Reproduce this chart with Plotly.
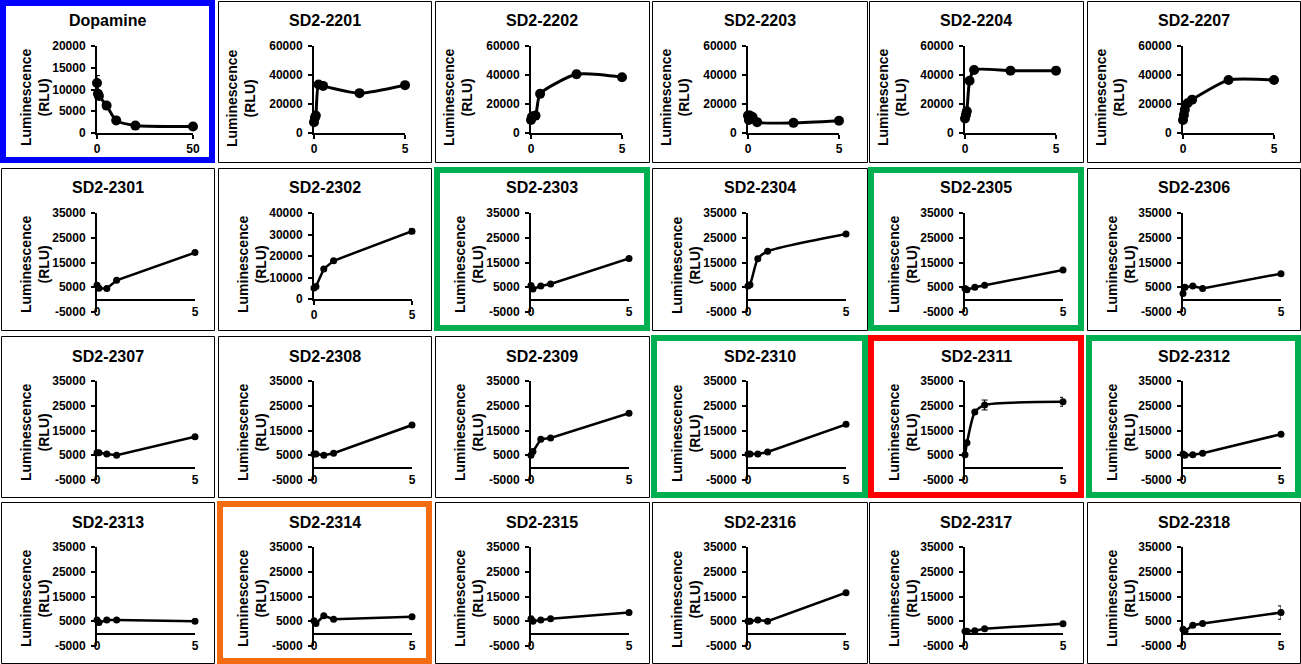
import plotly.graph_objects as go

W, H = 1301, 664

titles = ["Dopamine", "SD2-2201", "SD2-2202", "SD2-2203", "SD2-2204", "SD2-2207",
          "SD2-2301", "SD2-2302", "SD2-2303", "SD2-2304", "SD2-2305", "SD2-2306",
          "SD2-2307", "SD2-2308", "SD2-2309", "SD2-2310", "SD2-2311", "SD2-2312",
          "SD2-2313", "SD2-2314", "SD2-2315", "SD2-2316", "SD2-2317", "SD2-2318"]

# concentrations
x_dopamine = [0, 0.5, 1, 5, 10, 20, 50]
x_sd22 = [0, 0.05, 0.1, 0.25, 0.5, 2.5, 5]
x_sd23 = [0, 0.1, 0.5, 1, 5]

# luminescence (RLU)
y_dopamine = [11500, 9000, 8500, 6300, 2900, 1700, 1500]
y_2201 = [7500, 10500, 12000, 33500, 32500, 27500, 33000]
y_2202 = [9000, 11000, 11500, 12000, 27000, 40500, 38500]
y_2203 = [12000, 9000, 12000, 11000, 7500, 7000, 8500]
y_2204 = [10000, 12500, 15000, 36000, 43500, 43000, 43000]
y_2207 = [9000, 12500, 16000, 20500, 23000, 36500, 36500]
y_2301 = [5800, 4600, 4500, 7800, 19000]
y_2302 = [5100, 5800, 14000, 17800, 31500]
y_2303 = [5700, 4300, 5500, 6300, 16600]
y_2304 = [5500, 6000, 16500, 19500, 26500]
y_2305 = [4500, 4000, 5000, 5800, 12000]
y_2306 = [2500, 5000, 5500, 4500, 10500]
y_2307 = [6000, 6000, 5500, 5000, 12500]
y_2308 = [5500, 5500, 5000, 5800, 17200]
y_2309 = [5000, 6500, 11500, 12000, 22000]
y_2310 = [5500, 5500, 5500, 6300, 17500]
y_2311 = [5200, 10000, 22500, 25300, 26600]
y_2312 = [5500, 5000, 5200, 5800, 13500]
y_2313 = [5500, 4500, 5500, 5500, 5000]
y_2314 = [5200, 4100, 7200, 5800, 6800]
y_2315 = [6000, 5000, 5500, 6000, 8500]
y_2316 = [5000, 5000, 5500, 5000, 16500]
y_2317 = [1000, 1000, 1200, 2000, 4000]
y_2318 = [1800, 1000, 3400, 4100, 8500]

# error bars (SD)
e_dopamine = [1700, 0, 0, 0, 0, 0, 0]
e_2202 = [0, 0, 0, 0, 0, 2500, 0]
e_2203 = [0, 0, 0, 0, 0, 2000, 1500]
e_2204 = [0, 0, 0, 0, 0, 2000, 0]
e_2302 = [0, 0, 0, 0, 1200]
e_2311 = [0, 0, 0, 2000, 1800]
e_2318 = [0, 0, 0, 0, 2700]

series = {
    "Dopamine": (x_dopamine, y_dopamine, e_dopamine),
    "SD2-2201": (x_sd22, y_2201, None),
    "SD2-2202": (x_sd22, y_2202, e_2202),
    "SD2-2203": (x_sd22, y_2203, e_2203),
    "SD2-2204": (x_sd22, y_2204, e_2204),
    "SD2-2207": (x_sd22, y_2207, None),
    "SD2-2301": (x_sd23, y_2301, None),
    "SD2-2302": (x_sd23, y_2302, e_2302),
    "SD2-2303": (x_sd23, y_2303, None),
    "SD2-2304": (x_sd23, y_2304, None),
    "SD2-2305": (x_sd23, y_2305, None),
    "SD2-2306": (x_sd23, y_2306, None),
    "SD2-2307": (x_sd23, y_2307, None),
    "SD2-2308": (x_sd23, y_2308, None),
    "SD2-2309": (x_sd23, y_2309, None),
    "SD2-2310": (x_sd23, y_2310, None),
    "SD2-2311": (x_sd23, y_2311, e_2311),
    "SD2-2312": (x_sd23, y_2312, None),
    "SD2-2313": (x_sd23, y_2313, None),
    "SD2-2314": (x_sd23, y_2314, None),
    "SD2-2315": (x_sd23, y_2315, None),
    "SD2-2316": (x_sd23, y_2316, None),
    "SD2-2317": (x_sd23, y_2317, None),
    "SD2-2318": (x_sd23, y_2318, e_2318),
}

frame_colors = {
    "Dopamine": "#0000FF",
    "SD2-2303": "#00B050", "SD2-2305": "#00B050", "SD2-2310": "#00B050", "SD2-2312": "#00B050",
    "SD2-2311": "#FF0000",
    "SD2-2314": "#F36C12",
}

y_ticks_dopamine = [0, 5000, 10000, 15000, 20000]
y_ticks_sd22 = [0, 20000, 40000, 60000]
y_ticks_2302 = [0, 10000, 20000, 30000, 40000]
y_ticks_sd23 = [-5000, 5000, 15000, 25000, 35000]

FONT = "Liberation Sans, Arial, sans-serif"

cell_left = [1, 218, 435, 652, 869, 1087]
cell_right = [214, 431, 649, 867, 1083, 1300]
cell_top = [1, 168, 336, 502]
cell_bottom = [162, 330, 497, 663]


def px(x):
    return x / W


def py(y):
    return 1 - y / H


fig = go.Figure()
layout = dict(width=W, height=H,
              margin=dict(l=0, r=0, t=0, b=0, pad=0, autoexpand=False),
              paper_bgcolor="white", plot_bgcolor="white", showlegend=False,
              font=dict(family=FONT, color="black"))
annotations = []
shapes = []

for i, name in enumerate(titles):
    r, c = divmod(i, 6)
    k = i + 1
    sfx = "" if k == 1 else str(k)
    xs, ys, es = series[name]
    cl, ct = cell_left[c], cell_top[r]

    ax_x = cl + 96
    if name == "Dopamine":
        pw = 96
    elif r == 0:
        pw = 91
    else:
        pw = 98
    top = ct + 45
    if r == 0:
        bottom = ct + 132
        yt = y_ticks_dopamine if name == "Dopamine" else y_ticks_sd22
    elif name == "SD2-2302":
        bottom = ct + 131
        yt = y_ticks_2302
    else:
        bottom = ct + 144
        yt = y_ticks_sd23
    low = yt[0] < 0

    big = r == 0
    tr = dict(x=xs, y=ys, mode="lines+markers", xaxis="x" + sfx, yaxis="y" + sfx,
              line=dict(color="black", width=3 if big else 2.5,
                        shape="spline" if (big or name in ("SD2-2311", "SD2-2304")) else "linear",
                        smoothing=0.6),
              marker=dict(color="black", size=10 if big else 7),
              cliponaxis=False, hoverinfo="skip")
    if es is not None:
        tr["error_y"] = dict(type="data", array=es, visible=True, color="black",
                             thickness=1, width=3)
    fig.add_trace(go.Scatter(**tr))

    xmax = xs[-1]
    xaxis = dict(domain=[px(ax_x), px(ax_x + pw)], range=[0, xmax],
                 tickvals=[0, xmax], ticktext=[str(0), str(xmax)],
                 tickfont=dict(size=12, family=FONT, weight="bold", color="black"),
                 showgrid=False, zeroline=False, fixedrange=True, automargin=False)
    if low:
        xaxis.update(anchor="free", position=py(bottom - 9), showline=False, ticks="")
    else:
        xaxis.update(anchor="y" + sfx, showline=True, linecolor="black", linewidth=2,
                     ticks="outside", ticklen=4, tickwidth=1.5, tickcolor="black")
    yaxis = dict(domain=[py(bottom), py(top)], range=[yt[0], yt[-1]], anchor="x" + sfx,
                 tickvals=yt, ticktext=[str(v) for v in yt],
                 tickfont=dict(size=12, family=FONT, weight="bold", color="black"),
                 showline=True, linecolor="black", linewidth=2,
                 ticks="outside", ticklen=4, tickwidth=1.5, tickcolor="black",
                 ticklabelstandoff=3, automargin=False,
                 showgrid=False, zeroline=low, zerolinecolor="black", zerolinewidth=2,
                 fixedrange=True)
    layout["xaxis" + sfx] = xaxis
    layout["yaxis" + sfx] = yaxis

    # panel title
    annotations.append(dict(x=px((cell_left[c] + cell_right[c]) / 2), y=py(ct + 20),
                            xref="paper", yref="paper", text="<b>%s</b>" % name,
                            showarrow=False, xanchor="center", yanchor="middle",
                            font=dict(size=16, family=FONT, color="black")))
    # y axis title
    off = 23 if (r == 0 and c > 0) else 34
    annotations.append(dict(x=px(cl + off), y=py(ct + 97), xref="paper", yref="paper",
                            text="<b>Luminescence<br>(RLU)</b>", textangle=-90,
                            showarrow=False, xanchor="center", yanchor="middle",
                            font=dict(size=14, family=FONT, color="black")))
    # frame
    col = frame_colors.get(name)
    if col:
        shapes.append(dict(type="rect", xref="paper", yref="paper",
                           x0=px(cl + 2), x1=px(cell_right[c] - 2),
                           y0=py(cell_bottom[r] - 2), y1=py(ct + 2),
                           line=dict(color=col, width=6)))
    else:
        shapes.append(dict(type="rect", xref="paper", yref="paper",
                           x0=px(cl + 0.5), x1=px(cell_right[c] + 0.5),
                           y0=py(cell_bottom[r] + 0.5), y1=py(ct + 0.5),
                           line=dict(color="black", width=1)))

layout["annotations"] = annotations
layout["shapes"] = shapes
fig.update_layout(**layout)

post = ("document.documentElement.style.margin='0';"
        "document.body.style.margin='0';document.body.style.padding='0';"
        "document.body.style.overflow='hidden';")
fig.write_html("out.html", config={"displayModeBar": False}, post_script=post)
